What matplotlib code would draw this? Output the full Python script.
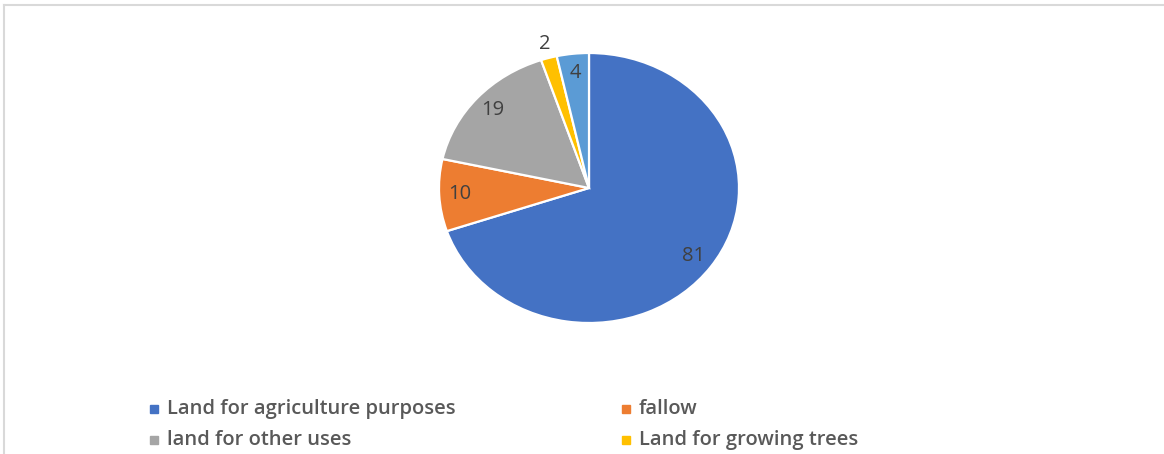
import matplotlib
matplotlib.use("Agg")
import matplotlib.pyplot as plt
from matplotlib.lines import Line2D
from matplotlib.patches import Rectangle
import numpy as np

categories = ["Land for agriculture purposes", "fallow", "land for other uses",
              "Land for growing trees", "other"]
values = [81, 10, 19, 2, 4]
colors = ["#4472C4", "#ED7D31", "#A5A5A5", "#FFC000", "#5B9BD5"]
# legend shows only the first four (the rest is cropped)
legend_items = [0, 1, 2, 3]

W, H = 1164, 454
fig = plt.figure(figsize=(W / 100, H / 100), dpi=100)
fig.patch.set_facecolor("white")

# chart frame (only top and left edges visible)
fig.add_artist(Line2D([4 / W, 1], [1 - 5 / H, 1 - 5 / H], color="#D9D9D9", lw=1.5))
fig.add_artist(Line2D([4 / W, 4 / W], [0, 1 - 5 / H], color="#D9D9D9", lw=1.5))

# pie axes, slightly stretched horizontally like the original
cx, cy, rx, ry = 589, 188, 150, 135
ax = fig.add_axes([(cx - rx) / W, (H - cy - ry) / H, 2 * rx / W, 2 * ry / H])
wedges, _ = ax.pie(values, colors=colors, startangle=90, counterclock=False,
                   radius=1, wedgeprops=dict(edgecolor="white", linewidth=1.6))
ax.set_aspect("auto")
ax.set_xlim(-1, 1)
ax.set_ylim(-1, 1)
ax.axis("off")

for w, v in zip(wedges, values):
    mid = np.deg2rad((w.theta1 + w.theta2) / 2)
    r = 0.86 if v > 3 else 1.11
    ax.text(r * np.cos(mid), r * np.sin(mid), str(v), ha="center", va="center",
            fontsize=14.5, color="#404040", family="Open Sans")

# legend, laid out row by row like Excel
col_x = [150, 622]
row_y = [409, 440]
for k, i in enumerate(legend_items):
    x = col_x[k % 2]
    y = row_y[k // 2]
    fig.add_artist(Rectangle((x / W, (H - y - 4) / H), 8 / W, 8 / H,
                             color=colors[i], transform=fig.transFigure))
    fig.text((x + 17) / W, (H - y) / H, categories[i], ha="left", va="center",
             fontsize=14.5, color="#595959", family="Open Sans", weight="semibold")

fig.savefig("out.png", dpi=100)
